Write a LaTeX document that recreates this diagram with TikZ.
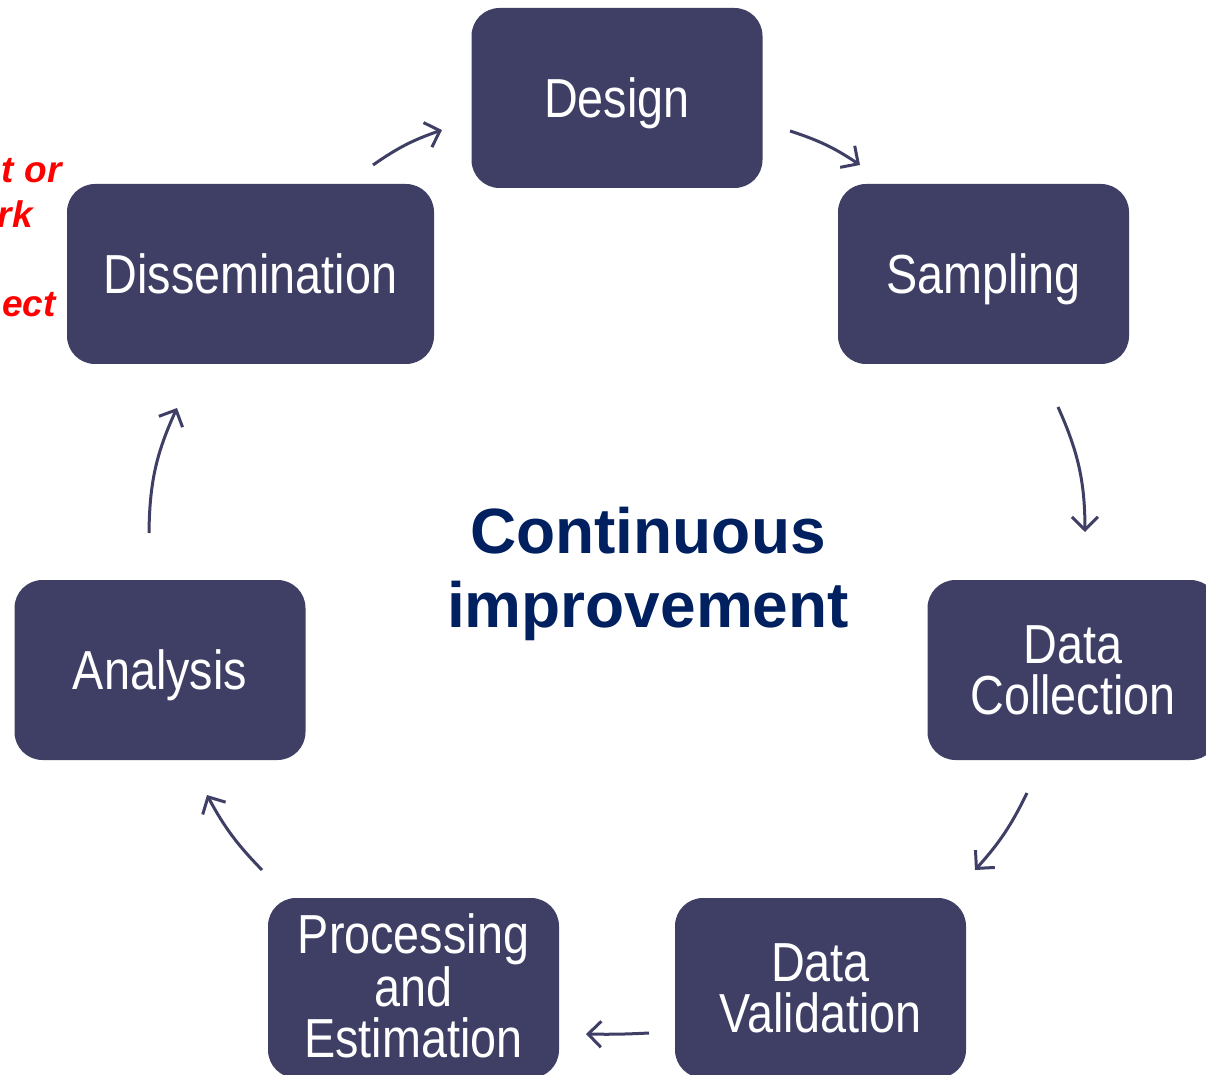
\documentclass[tikz,border=0pt]{standalone}
\usepackage{fontspec}
\setmainfont{Liberation Sans}
\newfontfamily\boxfont[FakeStretch=0.85]{Liberation Sans}
\newfontfamily\redfont{Liberation Sans Bold Italic}
\usetikzlibrary{arrows.meta}
\definecolor{boxc}{RGB}{63,63,102}
\definecolor{titlec}{RGB}{0,32,96}
\definecolor{redc}{RGB}{255,0,0}
\tikzset{
  stagebox/.style={fill=boxc,draw=none,rounded corners=14pt,minimum width=145.5pt,minimum height=90pt,inner sep=0pt},
  stagetext/.style={text=white,font=\boxfont\fontsize{27.5pt}{25.5pt}\selectfont,align=center,anchor=base,inner sep=0pt},
  cycarrow/.style={draw=boxc,line width=1.5pt,-{Straight Barb[length=6.5pt,width=13pt]},bend left=#1},
  redtext/.style={text=redc,font=\redfont\fontsize{18.5pt}{22pt}\selectfont,anchor=base east,inner sep=0pt}
}
\begin{document}
\begin{tikzpicture}[x=0.5pt,y=-0.5pt]
\useasboundingbox (0,0) rectangle (1206,1075);
\clip (0,0) rectangle (1206,1075);
\fill[white] (0,0) rectangle (1206,1075);
% partially hidden red note
\node[redtext] (r1) at (62,183) {t or};
\node[redtext] (r2) at (33,228) {rk};
\node[redtext] (r3) at (56,317) {ect};
% boxes
\node[stagebox] (design) at (617,98) {};
\node[stagebox] (sampling) at (983.5,274) {};
\node[stagebox] (collection) at (1073,670) {};
\node[stagebox] (validation) at (820.5,988) {};
\node[stagebox] (processing) at (413.5,988) {};
\node[stagebox] (analysis) at (160,670) {};
\node[stagebox,minimum width=183.5pt] (dissemination) at (250.5,274) {};
% labels (anchor base = last line baseline)
\node[stagetext] (tdesign) at (617,117.7) {Design};
\node[stagetext] (tsampling) at (983.5,293.7) {Sampling};
\node[stagetext] (tcollection) at (1073,714.5) {Data\\Collection};
\node[stagetext] (tvalidation) at (820.5,1032.5) {Data\\Validation};
\node[stagetext] (tprocessing) at (413.5,1057.5) {Processing\\and\\Estimation};
\node[stagetext] (tanalysis) at (160,689.7) {Analysis};
\node[stagetext] (tdissemination) at (250.5,293.7) {Dissemination};
% centre title
\node[text=titlec,font=\bfseries\fontsize{32pt}{37pt}\selectfont,align=center,anchor=base,inner sep=0pt] (title) at (648,627) {Continuous\\improvement};
% arrows
\coordinate (a1s) at (373,165); \coordinate (a1e) at (442,130);
\coordinate (a2s) at (790,131); \coordinate (a2e) at (860,165);
\coordinate (a3s) at (1058,407); \coordinate (a3e) at (1085,532);
\coordinate (a4s) at (1027,793); \coordinate (a4e) at (975,870);
\coordinate (a5s) at (649,1033); \coordinate (a5e) at (586,1034);
\coordinate (a6s) at (262,870); \coordinate (a6e) at (207,795);
\coordinate (a7s) at (149,533); \coordinate (a7e) at (177,408);
\draw[cycarrow=8] (a1s) to (a1e);
\draw[cycarrow=8] (a2s) to (a2e);
\draw[cycarrow=12] (a3s) to (a3e);
\draw[cycarrow=8] (a4s) to (a4e);
\draw[cycarrow=2] (a5s) to (a5e);
\draw[cycarrow=8] (a6s) to (a6e);
\draw[cycarrow=12] (a7s) to (a7e);
\end{tikzpicture}
\end{document}
